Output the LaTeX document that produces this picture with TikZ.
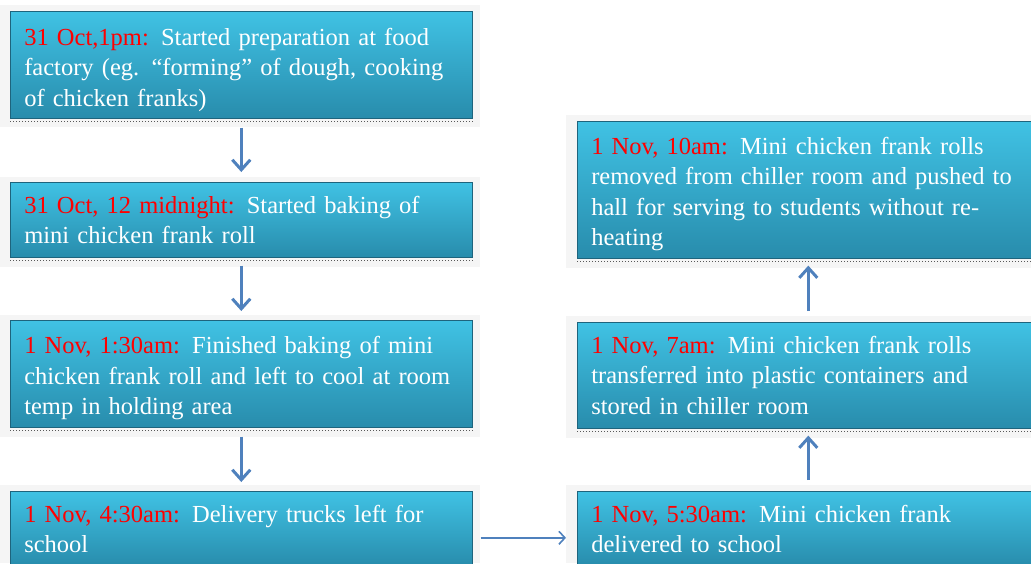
\documentclass[tikz,border=0pt]{standalone}
\usepackage{fontspec}
\setmainfont{Liberation Serif}
\usetikzlibrary{arrows.meta}
\definecolor{boxtop}{RGB}{64,194,228}
\definecolor{boxbot}{RGB}{40,140,172}
\definecolor{boxedge}{RGB}{30,100,125}
\definecolor{backdrop}{RGB}{245,245,245}
\definecolor{arrowblue}{RGB}{79,129,189}
\definecolor{datered}{RGB}{255,0,0}
\tikzset{
  stagebox/.style={anchor=north west, minimum width=462pt, inner xsep=14pt,
    text width=434pt, align=left, text=white,
    top color=boxtop, bottom color=boxbot, draw=boxedge, line width=0.6pt,
    font=\fontsize{24.5pt}{30.5pt}\selectfont},
  flowdown/.style={arrowblue, line width=3pt, -{Straight Barb[length=10pt,width=18pt,line width=3pt]}},
  flowside/.style={arrowblue, line width=2pt, -{Straight Barb[length=6pt,width=13pt,line width=1.6pt]}},
  dots/.style={gray!70!black, line width=1pt, dash pattern=on 1pt off 2pt},
}
\newcommand{\when}[1]{\textcolor{datered}{#1}}
\newcommand{\padtop}[1]{\rule{0pt}{#1}}
\begin{document}
\begin{tikzpicture}[x=1pt,y=-1pt]
\useasboundingbox (0,0) rectangle (1031,563);
% backdrops
\fill[backdrop] (0,5) rectangle (480,127);
\fill[backdrop] (0,177) rectangle (480,267);
\fill[backdrop] (0,315) rectangle (480,437);
\fill[backdrop] (0,485) rectangle (480,563);
\fill[backdrop] (566,115) rectangle (1031,268);
\fill[backdrop] (566,316) rectangle (1031,438);
\fill[backdrop] (566,485) rectangle (1031,563);
% left column
\node[stagebox, minimum height=107pt] (b1) at (10,11)
  {\padtop{27pt}\when{31 Oct,1pm:} Started preparation at food\\factory (eg. ``forming'' of dough, cooking\\of chicken franks)};
\node[stagebox, minimum height=75pt] (b2) at (10,182)
  {\when{31 Oct, 12 midnight:} Started baking of\\mini chicken frank roll};
\node[stagebox, minimum height=107pt] (b3) at (10,320)
  {\padtop{26pt}\when{1 Nov, 1:30am:} Finished baking of mini\\chicken frank roll and left to cool at room\\temp in holding area};
\node[stagebox, minimum height=75pt] (b4) at (10,491)
  {\when{1 Nov, 4:30am:} Delivery trucks left for\\school};
% right column
\node[stagebox, minimum height=75pt] (r1) at (577,491)
  {\when{1 Nov, 5:30am:} Mini chicken frank\\delivered to school};
\node[stagebox, minimum height=106pt] (r2) at (577,322)
  {\when{1 Nov, 7am:} Mini chicken frank rolls\\transferred into plastic containers and\\stored in chiller room};
\node[stagebox, minimum height=137pt] (r3) at (577,121)
  {\padtop{26pt}\when{1 Nov, 10am:} Mini chicken frank rolls\\removed from chiller room and pushed to\\hall for serving to students without re-\\heating};
% dotted lower edges
\foreach \n in {b1,b2,b3,r2,r3}
  \draw[dots] ([yshift=-2.5pt]\n.south west) -- ([yshift=-2.5pt]\n.south east);
% connectors
\draw[flowdown] ([yshift=-9pt]b1.south) -- ([yshift=10pt]b2.north);
\draw[flowdown] ([yshift=-8pt]b2.south) -- ([yshift=9pt]b3.north);
\draw[flowdown] ([yshift=-9pt]b3.south) -- ([yshift=9pt]b4.north);
\draw[flowside] ([xshift=8pt,yshift=-9pt]b4.east) -- ([xshift=-11pt,yshift=-9pt]r1.west);
\draw[flowdown] ([yshift=11pt]r1.north) -- ([yshift=-7pt]r2.south);
\draw[flowdown] ([yshift=11pt]r2.north) -- ([yshift=-7pt]r3.south);
\end{tikzpicture}
\end{document}
